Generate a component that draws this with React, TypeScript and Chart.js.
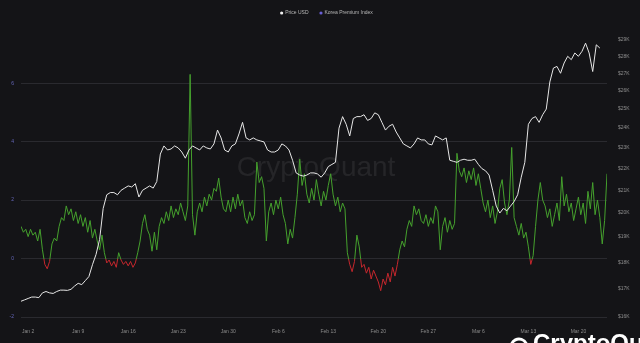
import React, { useEffect, useRef } from "react";
import { Chart, registerables } from "chart.js";

Chart.register(...registerables);

// Price USD, in thousands, every 12 hours starting Jan 1 2023 00:00
const PRICE_USD_K: number[] = [
  16.55, 16.6, 16.65, 16.7, 16.7, 16.68, 16.85, 16.9, 16.85, 16.83,
  16.9, 16.95, 16.95, 16.94, 16.98, 17.1, 17.2, 17.15, 17.3, 17.45,
  17.9, 18.3, 18.9, 20.2, 20.8, 20.9, 20.9, 20.8, 21.0, 21.1,
  21.2, 21.15, 21.3, 20.7, 21.0, 21.1, 21.2, 21.1, 21.4, 22.7,
  23.1, 22.9, 22.95, 23.1, 23.0, 22.8, 22.5, 22.9, 23.1, 23.0,
  22.9, 23.1, 23.0, 22.95, 23.2, 23.9, 23.5, 22.9, 22.8, 23.1,
  23.2, 23.7, 24.3, 23.5, 23.4, 23.5, 23.4, 23.35, 23.3, 22.9,
  22.8, 22.8, 22.9, 23.2, 23.1, 22.9, 22.4, 21.8, 21.7, 21.65,
  21.7, 21.8, 21.8, 21.75, 21.6, 21.8, 22.1, 22.2, 22.3, 24.0,
  24.6, 24.2, 23.6, 24.5, 24.6, 24.6, 24.7, 24.4, 24.5, 24.8,
  24.7, 24.3, 23.9, 24.1, 24.2, 23.8, 23.5, 23.2, 23.1, 23.0,
  23.2, 23.5, 23.4, 23.4, 23.2, 23.15, 23.6, 23.5, 23.4, 23.5,
  22.4, 22.35, 22.3, 22.4, 22.45, 22.4, 22.4, 22.45, 22.2, 22.0,
  21.9, 21.7, 21.0, 20.3, 20.0, 20.2, 20.1, 20.3, 20.5, 20.8,
  21.6, 22.3, 24.2, 24.5, 24.6, 24.3, 24.7, 25.0, 26.5, 27.3,
  27.4, 27.0, 27.6, 28.0, 27.8, 28.2, 28.0, 28.3, 28.8, 28.2,
  27.1, 28.7, 28.5,
];

// Korea Premium Index, every 8 hours starting Jan 1 2023 00:00
const KOREA_PREMIUM: number[] = [
  1.1, 0.9, 1.0, 0.75, 1.0, 0.8, 0.9, 0.6, 1.0, 0.3, -0.2, -0.35,
  -0.1, 0.5, 0.7, 0.6, 1.1, 1.4, 1.3, 1.8, 1.5, 1.7, 1.3, 1.6,
  1.2, 1.5, 1.1, 1.4, 0.9, 1.3, 0.7, 1.0, 0.6, 0.3, 0.8, 0.2,
  -0.15, -0.05, -0.25, -0.1, -0.3, 0.2, -0.05, -0.2, -0.1, -0.25, -0.1, -0.3,
  -0.15, 0.2, 0.6, 1.2, 1.5, 1.0, 0.8, 0.25, 0.9, 0.3, 1.1, 1.4,
  1.2, 1.6, 1.3, 1.8, 1.4, 1.7, 1.5, 1.9, 1.6, 1.3, 1.8, 6.3,
  1.5, 0.8, 1.6, 1.9, 1.6, 2.1, 1.8, 2.2, 2.0, 2.4, 2.3, 2.75,
  2.1, 1.7, 1.6, 2.0, 1.6, 2.1, 1.7, 2.2, 1.8, 2.0, 1.4, 1.2,
  1.6, 1.3, 1.5, 3.3, 2.6, 2.8, 2.4, 0.6, 1.6, 1.9, 1.5, 2.0,
  1.7, 2.1, 1.5, 1.2, 0.5, 1.0, 0.7, 1.4, 2.2, 3.4, 2.5, 2.9,
  2.2, 1.9, 2.4, 2.0, 2.7, 2.2, 1.8, 2.3, 2.0, 2.5, 2.9, 2.2,
  1.8, 2.1, 1.6, 1.9, 1.7, 0.2, -0.2, -0.45, -0.1, 0.8, 0.4, -0.3,
  -0.2, -0.5, -0.3, -0.7, -0.4, -0.6, -0.8, -1.1, -0.7, -0.9, -0.5, -0.8,
  -0.3, -0.6, -0.2, 0.3, 0.6, 0.4, 1.0, 1.3, 1.1, 1.8, 1.5, 1.7,
  1.3, 1.2, 1.5, 1.1, 1.4, 1.2, 1.8, 1.6, 0.3, 1.1, 1.4, 0.9,
  1.3, 1.0, 1.2, 3.6, 3.0, 2.8, 3.1, 2.6, 3.0, 2.7, 3.1, 2.5,
  2.9, 2.4, 1.9, 1.6, 2.0, 1.4, 1.8, 1.2, 1.6, 2.4, 2.7, 1.9,
  1.5, 2.0, 3.8, 1.4, 1.1, 0.8, 1.2, 0.7, 0.9, 0.4, -0.2, 0.1,
  1.1, 2.0, 2.6, 2.0, 1.8, 1.4, 1.7, 1.1, 1.5, 1.9, 1.3, 2.8,
  1.8, 2.2, 1.6, 1.9, 1.3, 1.7, 2.1, 1.5, 1.9, 1.2, 2.3, 1.7,
  2.6, 1.5, 2.0, 1.4, 0.5, 1.3, 2.9,
];

const X_TICK_LABELS = ["Jan 2", "Jan 9", "Jan 16", "Jan 23", "Jan 30", "Feb 6", "Feb 13", "Feb 20", "Feb 27", "Mar 6", "Mar 13", "Mar 20"];
const LEFT_TICKS = [-2, 0, 2, 4, 6];
const RIGHT_TICKS_K = [16, 17, 18, 19, 20, 21, 22, 23, 24, 25, 26, 27, 28, 29];

const GREEN = "#44a02c";
const RED = "#c4262c";
const BG = "#141417";

export default function App() {
  const ref = useRef<HTMLCanvasElement | null>(null);

  useEffect(() => {
    if (!ref.current) return;
    const priceData = PRICE_USD_K.map((v, i) => ({ x: i * 0.5, y: v * 1000 }));
    const premData = KOREA_PREMIUM.map((v, i) => ({ x: i / 3, y: v }));

    const bgPlugin = {
      id: "bg",
      beforeDraw(chart: any) {
        const c = chart.ctx;
        c.save();
        c.fillStyle = BG;
        c.fillRect(0, 0, chart.width, chart.height);
        c.restore();
      },
      beforeDatasetsDraw(chart: any) {
        const c = chart.ctx;
        const a = chart.chartArea;
        c.save();
        c.fillStyle = "rgba(255,255,255,0.075)";
        c.font = "28px 'Liberation Sans', Arial, sans-serif";
        c.textAlign = "center";
        c.textBaseline = "middle";
        c.fillText("CryptoQuant", (a.left + a.right) / 2 + 2, 168);
        c.restore();
      },
      afterDraw(chart: any) {
        const c = chart.ctx;
        c.save();
        // legend
        c.font = "5px 'Liberation Sans', Arial, sans-serif";
        c.textBaseline = "middle";
        const items = [
          { label: "Price USD", color: "#f0f0f0" },
          { label: "Korea Premium Index", color: "#6a5fd6" },
        ];
        const widths = items.map((it) => 6 + c.measureText(it.label).width);
        const gap = 10;
        const total = widths.reduce((s, w) => s + w, 0) + gap;
        let x = 327 - total / 2;
        items.forEach((it, i) => {
          c.fillStyle = it.color;
          c.beginPath();
          c.arc(x + 1.5, 13, 1.6, 0, Math.PI * 2);
          c.fill();
          c.fillStyle = "#b8b8b8";
          c.fillText(it.label, x + 5, 13);
          x += widths[i] + gap;
        });
        // bottom-right logo
        c.fillStyle = "#ffffff";
        c.strokeStyle = "#ffffff";
        c.lineWidth = 3;
        c.beginPath();
        c.arc(519, 347, 8, Math.PI * 1.1, Math.PI * 1.9);
        c.stroke();
        c.font = "bold 24px 'Liberation Sans', Arial, sans-serif";
        c.textBaseline = "alphabetic";
        c.textAlign = "left";
        c.fillText("CryptoQuant", 533, 351);
        c.restore();
      },
    };

    const tickFont = { size: 5, family: "'Liberation Sans', Arial, sans-serif" };

    const chart = new Chart(ref.current, {
      type: "line",
      data: {
        datasets: [
          {
            label: "Price USD",
            data: priceData,
            yAxisID: "y1",
            borderColor: "#e6e6e6",
            borderWidth: 1,
            pointRadius: 0,
            tension: 0,
            order: 1,
          },
          {
            label: "Korea Premium Index",
            data: premData,
            yAxisID: "y",
            borderWidth: 1,
            pointRadius: 0,
            tension: 0,
            order: 2,
            borderColor: (ctx: any) => {
              const ch = ctx.chart;
              const area = ch.chartArea;
              if (!area || !ch.scales.y) return GREEN;
              const y0 = ch.scales.y.getPixelForValue(0);
              const g = ch.ctx.createLinearGradient(0, area.top, 0, area.bottom);
              const t = Math.min(1, Math.max(0, (y0 - area.top) / (area.bottom - area.top)));
              g.addColorStop(0, GREEN);
              g.addColorStop(t, GREEN);
              g.addColorStop(t, RED);
              g.addColorStop(1, RED);
              return g;
            },
          },
        ],
      },
      options: {
        responsive: false,
        animation: false,
        layout: { padding: { top: 32, left: 0, right: 0, bottom: 0 } },
        plugins: {
          legend: { display: false },
          tooltip: { enabled: false },
        },
        scales: {
          x: {
            type: "linear",
            min: 0,
            max: 82,
            grid: { display: false },
            border: { display: false },
            afterBuildTicks: (s: any) => {
              s.ticks = X_TICK_LABELS.map((_, i) => ({ value: 1 + i * 7 }));
            },
            afterFit: (s: any) => {
              s.height = 26;
            },
            ticks: {
              color: "#8c8c8c",
              font: tickFont,
              padding: 4,
              maxRotation: 0,
              autoSkip: false,
              callback: (v: any) => {
                const idx = Math.round((Number(v) - 1) / 7);
                return X_TICK_LABELS[idx] ?? "";
              },
            },
          },
          y: {
            type: "linear",
            position: "left",
            min: -2,
            max: 7.75,
            afterBuildTicks: (s: any) => {
              s.ticks = LEFT_TICKS.map((v) => ({ value: v }));
            },
            afterFit: (s: any) => {
              s.width = 21;
            },
            grid: { color: "#2a2a2f", lineWidth: 1, drawTicks: false },
            border: { display: false },
            ticks: { color: "#6466b8", font: tickFont, padding: 7 },
          },
          y1: {
            type: "logarithmic",
            position: "right",
            min: 16000,
            max: 29500,
            afterBuildTicks: (s: any) => {
              s.ticks = RIGHT_TICKS_K.map((v) => ({ value: v * 1000 }));
            },
            afterFit: (s: any) => {
              s.width = 33;
            },
            grid: { display: false, drawTicks: false },
            border: { display: false },
            ticks: {
              color: "#8c8c8c",
              font: tickFont,
              padding: 11,
              callback: (v: any) => "$" + Math.round(Number(v) / 1000) + "K",
            },
          },
        },
      },
      plugins: [bgPlugin],
    } as any);

    return () => chart.destroy();
  }, []);

  return (
    <div style={{ position: "fixed", left: 0, top: 0, width: 640, height: 343, background: BG, overflow: "hidden" }}>
      <canvas ref={ref} width={640} height={343} style={{ display: "block" }} />
    </div>
  );
}
